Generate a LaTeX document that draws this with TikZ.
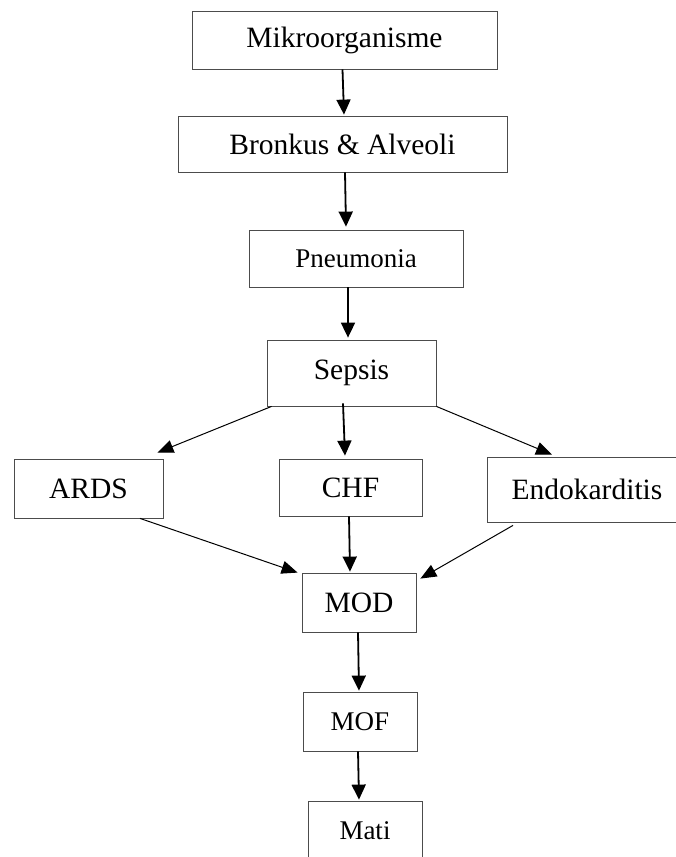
\documentclass[tikz,border=0pt]{standalone}
\usepackage{fontspec}
\setmainfont{Liberation Serif}
\usetikzlibrary{arrows.meta}

\begin{document}
\begin{tikzpicture}
        [%%%%%%%%%%%%%%%%%%%%%%%%%%%%%%
        x=1pt,y=-1pt,
        box/.style={rectangle,draw=black!70,line width=0.8pt,inner sep=0pt,
          font=\fontsize{29.5}{33}\selectfont},
        smallbox/.style={box,font=\fontsize{27}{31}\selectfont},
        arr/.style={line width=1.8pt,-{Triangle[length=15pt,width=14pt]}},
        slant/.style={line width=1pt,-{Triangle[length=16pt,width=13pt]}},
        ]%%%%%%%%%%%%%%%%%%%%%%%%%%%%%%

        \clip (0,0) rectangle (676,857);

        \node[box,minimum width=305,minimum height=58] (mikro) at (344.5,40) {Mikroorganisme};
        \node[box,minimum width=329,minimum height=56] (bronkus) at (342.5,144) {Bronkus \& Alveoli};
        \node[smallbox,minimum width=214,minimum height=57] (pneu) at (356,258.5) {Pneumonia};
        \node[box,minimum width=169,minimum height=66] (sepsis) at (351.5,373) {Sepsis};

        \node[box,minimum width=149,minimum height=59] (ards) at (88.5,488.5) {ARDS};
        \node[box,minimum width=143,minimum height=57] (chf) at (350.5,487.5) {CHF};
        \node[box,minimum width=200,minimum height=65] (endo) at (587,489.5) {Endokarditis};

        \node[box,minimum width=114,minimum height=59] (mod) at (359,602.5) {MOD};
        \node[smallbox,minimum width=114,minimum height=59] (mof) at (360,721.5) {MOF};
        \node[smallbox,minimum width=114,minimum height=59] (mati) at (365,830.5) {Mati};

        % jalur utama
        \draw[arr] ([xshift=-2pt]mikro.south) -- ([xshift=1.5pt,yshift=1pt]bronkus.north);
        \draw[arr] ([xshift=2.5pt]bronkus.south) -- ([xshift=-10pt,yshift=3pt]pneu.north);
        \draw[arr] ([xshift=-8pt]pneu.south) -- ([xshift=-3.5pt,yshift=2pt]sepsis.north);

        % komplikasi
        \draw[slant] ([xshift=5pt]sepsis.south west) -- ([xshift=-6pt,yshift=6pt]ards.north east);
        \draw[arr] ([xshift=-8.5pt,yshift=3pt]sepsis.south) -- ([xshift=-5.5pt,yshift=3pt]chf.north);
        \draw[slant] (sepsis.south east) -- ([xshift=-35pt,yshift=2pt]endo.north);

        \draw[slant] ([xshift=51.5pt]ards.south) -- ([xshift=-4pt]mod.north west);
        \draw[arr] ([xshift=-1.5pt]chf.south) -- ([xshift=-9pt,yshift=1pt]mod.north);
        \draw[slant] ([xshift=-74pt,yshift=-3pt]endo.south) -- ([xshift=4pt,yshift=-6pt]mod.north east);

        \draw[arr] ([xshift=-1pt]mod.south) -- ([xshift=-1pt,yshift=1pt]mof.north);
        \draw[arr] ([xshift=-2pt]mof.south) -- ([xshift=-6pt,yshift=1pt]mati.north);

      \end{tikzpicture}
\end{document}
